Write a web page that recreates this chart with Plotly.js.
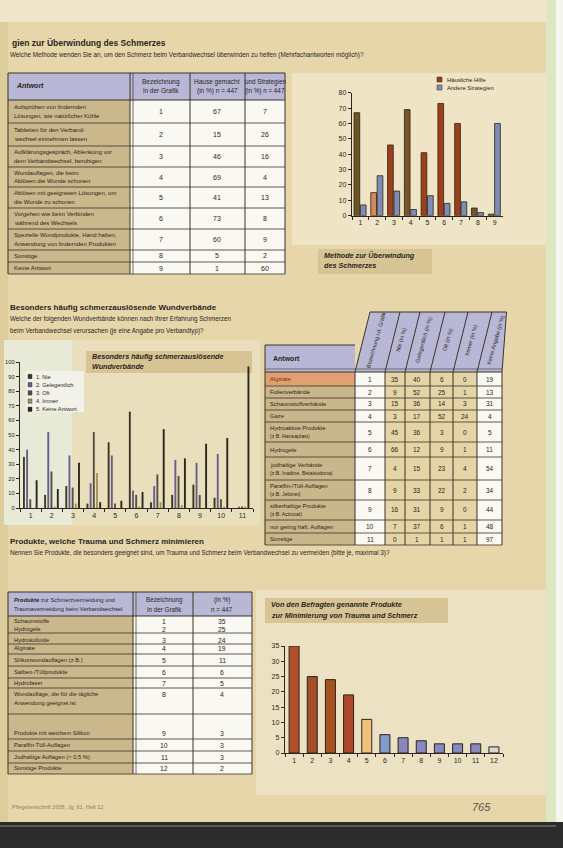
<!DOCTYPE html>
<html><head><meta charset="utf-8">
<script src="https://cdn.plot.ly/plotly-3.0.1.min.js"></script>
<style>html,body{margin:0;padding:0;background:#e6d6aa}#chart{width:563px;height:848px}</style>
</head><body><div id="chart"></div>
<script>
// ---------- DATA ----------
// Chart 1: methods to overcome pain
const methodCodes = ['1','2','3','4','5','6','7','8','9'];
const methodAnswers = [
  ['Aufsprühen von lindernden','Lösungen, wie natürlicher Kühle'],
  ['Tabletten für den Verband-','wechsel einnehmen lassen'],
  ['Aufklärungsgespräch, Ablenkung vor','dem Verbandwechsel, beruhigen'],
  ['Wundauflagen, die beim','Ablösen die Wunde schonen'],
  ['Ablösen mit geeigneten Lösungen, um','die Wunde zu schonen'],
  ['Vorgehen wie beim Verbinden','während des Wechsels'],
  ['Spezielle Wundprodukte, Hand halten,','Anwendung von lindernden Produkten'],
  ['Sonstige',''],
  ['Keine Antwort','']
];
const methodHome  = [67, 15, 46, 69, 41, 73, 60, 5, 1];
const methodOther = [7, 26, 16, 4, 13, 8, 9, 2, 60];
const methodSeries = ['Häusliche Hilfe', 'Andere Strategien'];

// Chart 2: painful dressings
const dressingCodes = ['1','2','3','4','5','6','7','8','9','10','11'];
const dressingNames = [
  ['Alginate'], ['Folienverbände'], ['Schaumstoffverbände'], ['Gaze'],
  ['Hydroaktive Produkte','(z.B. Hansaplast)'], ['Hydrogele'],
  ['jodhaltige Verbände','(z.B. Inadine, Betaisodona)'],
  ['Paraffin-/Tüll-Auflagen','(z.B. Jelonet)'],
  ['silberhaltige Produkte','(z.B. Acticoat)'],
  ['nur gering haft. Auflagen'], ['Sonstige']
];
const freqSeries = ['1. Nie', '2. Gelegentlich', '3. Oft', '4. Immer', '5. Keine Antwort'];
const freqNever     = [35, 9, 15, 3, 45, 66, 4, 9, 16, 7, 0];
const freqSometimes = [40, 52, 36, 17, 36, 12, 15, 33, 31, 37, 1];
const freqOften     = [6, 25, 14, 52, 3, 9, 23, 22, 9, 6, 1];
const freqAlways    = [0, 1, 3, 24, 0, 1, 4, 2, 0, 1, 1];
const freqNone      = [19, 13, 31, 4, 5, 11, 54, 34, 44, 48, 97];
const freqHeaders = ['Bezeichnung i.d. Grafik', 'Nie (in %)', 'Gelegentlich (in %)', 'Oft (in %)', 'Immer (in %)', 'Keine Angabe (in %)'];

// Chart 3: products minimising trauma and pain
const productCodes = ['1','2','3','4','5','6','7','8','9','10','11','12'];
const productNames = [
  ['Schaumstoffe'], ['Hydrogele'], ['Hydrokolloide'], ['Alginate'],
  ['Silikonwundauflagen (z.B.)'], ['Salben-/Tüllprodukte'], ['Hydrofaser'],
  ['Wundauflage, die für die tägliche','Anwendung geeignet ist'],
  ['Produkte mit weichem Silikon'], ['Paraffin-Tüll-Auflagen'],
  ['Jodhaltige Auflagen (< 0,5 %)'], ['Sonstige Produkte']
];
const productShare = [35, 25, 24, 19, 11, 6, 5, 4, 3, 3, 3, 2];

// ---------- STYLE ----------
const W = 563, H = 848;
const px = x => x / W, py = y => 1 - y / H;
const FONT = 'Liberation Sans, Arial, sans-serif';
const INK = '#2b2620';
const homeColors = ['#6f5426','#d5885a','#9c3f1c','#7a5428','#9c3f1c','#a23d1a','#9c3f1c','#6a5630','#6a5630'];
const otherColor = '#7f8cb4';
const freqColors = ['#3e3621','#6a5c8e','#55503f','#a39263','#2d281b'];
const productColors = ['#b0502a','#a44e2a','#a5521f','#ae472c','#f1c079','#7f9ccb','#8987c0','#8987c0','#8987c0','#8987c0','#8987c0','#d9d6d0'];

const shapes = [], ann = [];
function rect(x0, y0, x1, y1, fill, lineColor, lw, layer) {
  shapes.push({type:'rect', xref:'paper', yref:'paper', x0:px(x0), x1:px(x1), y0:py(y1), y1:py(y0),
    fillcolor: fill || 'rgba(0,0,0,0)', line:{color: lineColor || 'rgba(0,0,0,0)', width: lw == null ? 0 : lw}, layer: layer || 'below'});
}
function line(x0, y0, x1, y1, color, w) {
  shapes.push({type:'line', xref:'paper', yref:'paper', x0:px(x0), x1:px(x1), y0:py(y0), y1:py(y1),
    line:{color: color || '#3a3428', width: w || 1}, layer:'above'});
}
function path(pts, fill) {
  const d = pts.map((p, i) => (i ? 'L' : 'M') + px(p[0]) + ',' + py(p[1])).join(' ') + ' Z';
  shapes.push({type:'path', xref:'paper', yref:'paper', path:d, fillcolor:fill, line:{width:0}, layer:'below'});
}
function txt(x, y, text, o) {
  o = o || {};
  ann.push({xref:'paper', yref:'paper', x:px(x), y:py(y), text:text, showarrow:false,
    xanchor:o.xa || 'left', yanchor:'middle', textangle:o.angle || 0,
    font:{family:FONT, size:o.size || 6.5, color:o.color || INK}, align:o.align || 'left'});
}

// ---------- PAGE BACKGROUND ----------
rect(0, 0, 563, 22, '#efe6cb');
rect(0, 22, 8, 822, '#ddcc9c');
rect(546, 0, 556, 822, '#dfe6c2');
rect(556, 0, 563, 848, '#f6f6f0');
rect(0, 822, 563, 848, '#2b2b2b');
line(0, 826, 556, 826, '#8a8a8a', 1);

// ---------- SECTION 1 ----------
txt(10, 43, '<b>gien zur Überwindung des Schmerzes</b>', {size:8.5});
txt(8, 55, 'Welche Methode wenden Sie an, um den Schmerz beim Verbandwechsel überwinden zu helfen (Mehrfachantworten möglich)?', {size:6.3});

// table 1
rect(8, 73, 285, 100, '#b9b7d6');
rect(8, 100, 130, 274, '#cab78b');
rect(130, 100, 285, 274, '#faf8f2');
const t1Cols = [8, 130, 190, 245, 285];
t1Cols.forEach(c => line(c, 73, c, 274, '#3a3428', 1));
line(133, 73, 133, 274, '#3a3428', 0.7);
line(8, 73, 285, 73, '#3a3428', 1.2);
line(8, 100, 285, 100, '#3a3428', 1.2);
const t1Bounds = [100, 123, 146, 167, 187, 208, 229, 250, 262, 274];
t1Bounds.slice(1).forEach(b => line(8, b, 285, b, '#3a3428', 0.8));
txt(14, 86, '<b><i>Antwort</i></b>', {size:7});
txt(161, 82, 'Bezeichnung', {xa:'center', size:6.5});
txt(161, 91, 'in der Grafik', {xa:'center', size:6.5});
txt(217, 82, 'Hause gemacht', {xa:'center', size:6.5});
txt(217, 91, '(in %) n = 447', {xa:'center', size:6.5});
txt(265, 82, 'und Strategien', {xa:'center', size:6.3});
txt(265, 91, '(in %) n = 447', {xa:'center', size:6.3});
methodCodes.forEach((c, i) => {
  const y0 = t1Bounds[i], y1 = t1Bounds[i + 1], ym = (y0 + y1) / 2;
  const a = methodAnswers[i];
  if (a[1]) { txt(12, ym - 4.5, a[0], {size:6}); txt(12, ym + 4.5, a[1], {size:6}); }
  else txt(12, ym, a[0], {size:6});
  txt(161, ym, c, {xa:'center', size:7});
  txt(217, ym, String(methodHome[i]), {xa:'center', size:7});
  txt(265, ym, String(methodOther[i]), {xa:'center', size:7});
});

// chart 1 area
rect(292, 73, 546, 245, '#efe5c6');
rect(318, 249, 432, 274, '#d7c495');
txt(322, 256, '<b><i>Methode zur Überwindung</i></b>', {size:7.2});
txt(322, 266, '<b><i>des Schmerzes</i></b>', {size:7.2});
rect(437, 77, 442, 82, homeColors[2], INK, 0.5, 'above');
rect(437, 85, 442, 90, otherColor, INK, 0.5, 'above');
txt(445, 79.5, methodSeries[0], {size:5.8});
txt(445, 87.5, methodSeries[1], {size:5.8});

// ---------- SECTION 2 ----------
txt(8, 307, '<b>Besonders häufig schmerzauslösende Wundverbände</b>', {size:8});
txt(8, 319, 'Welche der folgenden Wundverbände können nach Ihrer Erfahrung Schmerzen', {size:6.3});
txt(8, 331, 'beim Verbandwechsel verursachen (je eine Angabe pro Verbandtyp)?', {size:6.3});

rect(4, 340, 260, 525, '#e9dfbd');
rect(4, 340, 72, 525, '#e7ead6');
rect(86, 351, 252, 373, '#d7c495');
txt(90, 357, '<b><i>Besonders häufig schmerzauslösende</i></b>', {size:7.2});
txt(90, 367, '<b><i>Wundverbände</i></b>', {size:7.2});
rect(26, 371, 84, 412, '#f3f2ea');
freqSeries.forEach((s, i) => {
  const y = 376.5 + i * 8.2;
  rect(28, y - 2.2, 32, y + 2.2, freqColors[i], INK, 0.4, 'above');
  txt(34, y, s, {size:5.6});
});

// table 2
const t2Cols = [355, 385, 405, 430, 453, 477, 502];
const slant = 15;
rect(265, 345, 355, 372, '#b9b7d6');
path([[355, 372], [355 + slant, 312], [502 + slant * 0.3, 312], [502, 372]], '#b9b7d6');
rect(265, 372, 355, 545, '#c9b68a');
rect(265, 372, 355, 386, '#dfa171');
rect(355, 372, 385, 545, '#faf8f2');
rect(385, 372, 477, 545, '#e4d4a6');
rect(477, 372, 502, 545, '#faf8f2');
line(265, 345, 355, 345, '#3a3428', 1);
line(265, 345, 265, 545, '#3a3428', 1);
line(355 + slant, 312, 502 + slant * 0.3, 312, '#3a3428', 1);
t2Cols.forEach((c, i) => {
  line(c, 372, c, 545, '#3a3428', 1);
  const top = i === t2Cols.length - 1 ? c + slant * 0.3 : c + slant;
  line(c, 372, top, 312, '#3a3428', 1);
});
line(265, 372, 502, 372, '#3a3428', 1.2);
line(265, 369, 502, 369, '#3a3428', 0.6);
txt(271, 358, '<b>Antwort</b>', {size:7});
freqHeaders.forEach((h, i) => {
  const cx = (t2Cols[i] + t2Cols[i + 1]) / 2 + 6;
  txt(cx, 340, h, {xa:'center', size:5.6, angle:-74});
});
const t2Bounds = [372, 386, 398, 410, 422, 442, 457, 480, 500, 520, 533, 545];
t2Bounds.slice(1).forEach(b => line(265, b, 502, b, '#3a3428', 0.8));
const freqAll = [freqNever, freqSometimes, freqOften, freqAlways, freqNone];
dressingCodes.forEach((c, i) => {
  const ym = (t2Bounds[i] + t2Bounds[i + 1]) / 2;
  const n = dressingNames[i];
  if (n.length > 1) { txt(268, ym - 4, n[0], {size:5.8}); txt(268, ym + 4, n[1], {size:5.2}); }
  else txt(268, ym, n[0], {size:5.8, color: i === 0 ? '#7a2a10' : INK});
  txt(370, ym, c, {xa:'center', size:6.5});
  freqAll.forEach((arr, k) => {
    txt((t2Cols[k + 1] + t2Cols[k + 2]) / 2, ym, String(arr[i]), {xa:'center', size:6.5});
  });
});

// ---------- SECTION 3 ----------
txt(8, 541, '<b>Produkte, welche Trauma und Schmerz minimieren</b>', {size:8});
txt(8, 553, 'Nennen Sie Produkte, die besonders geeignet sind, um Trauma und Schmerz beim Verbandwechsel zu vermeiden (bitte je, maximal 3)?', {size:6.3});

rect(8, 592, 252, 616, '#b9b7d6');
rect(8, 616, 133, 774, '#cab78b');
rect(133, 616, 252, 774, '#faf8f2');
[8, 133, 193, 252].forEach(c => line(c, 592, c, 774, '#3a3428', 1));
line(136, 592, 136, 774, '#3a3428', 0.7);
line(8, 592, 252, 592, '#3a3428', 1.2);
line(8, 616, 252, 616, '#3a3428', 1.2);
txt(12, 600, '<b><i>Produkte</i></b> zur Schmerzvermeidung und', {size:5.8});
txt(12, 609, 'Traumavermeidung beim Verbandwechsel', {size:5.8});
txt(164, 600, 'Bezeichnung', {xa:'center', size:6.3});
txt(164, 609, 'in der Grafik', {xa:'center', size:6.3});
txt(222, 600, '(in %)', {xa:'center', size:6.3});
txt(222, 609, 'n = 447', {xa:'center', size:6.3});
const t3Y = [621, 629, 640, 648, 660, 672, 683, 694, 733, 745, 757, 768];
const t3Lines = [633, 644, 654, 666, 678, 688, 714, 739, 751, 763, 774];
t3Lines.forEach(b => line(8, b, 252, b, '#3a3428', 0.8));
productCodes.forEach((c, i) => {
  const y = t3Y[i], n = productNames[i];
  if (n.length > 1) { txt(12, y, n[0], {size:5.8}); txt(12, y + 9, n[1], {size:5.8}); }
  else txt(12, y, n[0], {size:5.8});
  txt(164, y, c, {xa:'center', size:6.8});
  txt(222, y, String(productShare[i]), {xa:'center', size:6.8});
});

rect(256, 590, 546, 795, '#ece2c3');
rect(265, 598, 448, 623, '#d7c495');
txt(269, 604.5, '<b><i>Von den Befragten genannte Produkte</i></b>', {size:7.2});
txt(269, 615.5, '<b><i>zur Minimierung von Trauma und Schmerz</i></b>', {size:7.2});

// footer
txt(10, 807, 'Pflegezeitschrift 2008, Jg. 61, Heft 12', {size:5.5, color:'#8a7f66'});
txt(470, 807, '<i>765</i>', {size:11, color:'#5a5246'});

// ---------- TRACES ----------
const traces = [
  {type:'bar', x:methodCodes, y:methodHome, name:methodSeries[0], xaxis:'x', yaxis:'y',
   width:0.34, offset:-0.38, marker:{color:homeColors, line:{color:'#2b2418', width:0.8}}},
  {type:'bar', x:methodCodes, y:methodOther, name:methodSeries[1], xaxis:'x', yaxis:'y',
   width:0.34, offset:0.0, marker:{color:otherColor, line:{color:'#2b2418', width:0.8}}}
];
freqAll.forEach((arr, k) => traces.push({type:'bar', x:dressingCodes, y:arr, name:freqSeries[k],
  xaxis:'x2', yaxis:'y2', width:0.09, offset:-0.36 + k * 0.15,
  marker:{color:freqColors[k], line:{width:0}}}));
traces.push({type:'bar', x:productCodes, y:productShare, name:'Produkte', xaxis:'x3', yaxis:'y3',
  width:0.55, offset:-0.275, marker:{color:productColors, line:{color:'#2b2418', width:1}}});

const axFont = {family:FONT, size:7, color:INK};
const xax = (dom, anchor) => ({domain:dom, anchor:anchor, type:'category', showline:true, linecolor:INK, linewidth:1.2,
  ticks:'outside', ticklen:3, tickcolor:INK, tickson:'boundaries', tickfont:axFont, showgrid:false, zeroline:false, fixedrange:true});
const yax = (dom, anchor, range, dtick) => ({domain:dom, anchor:anchor, range:range, dtick:dtick, showline:true, linecolor:INK,
  linewidth:1.2, ticks:'outside', ticklen:3, tickcolor:INK, tickfont:axFont, showgrid:false, zeroline:false, fixedrange:true});

const layout = {
  width:W, height:H, margin:{l:0, r:0, t:0, b:0}, paper_bgcolor:'#e6d6aa', plot_bgcolor:'rgba(0,0,0,0)',
  showlegend:false, barmode:'overlay',
  xaxis: xax([px(352), px(503)], 'y'),
  yaxis: yax([py(215.7), py(92.7)], 'x', [0, 80], 10),
  xaxis2: xax([px(20), px(253)], 'y2'),
  yaxis2: yax([py(508), py(362)], 'x2', [0, 100], 10),
  xaxis3: xax([px(285), px(503)], 'y3'),
  yaxis3: yax([py(753), py(646)], 'x3', [0, 35], 5),
  shapes:shapes, annotations:ann
};
layout.yaxis2.tickfont = {family:FONT, size:5.8, color:INK};
Plotly.newPlot('chart', traces, layout, {staticPlot:true});
</script></body></html>
